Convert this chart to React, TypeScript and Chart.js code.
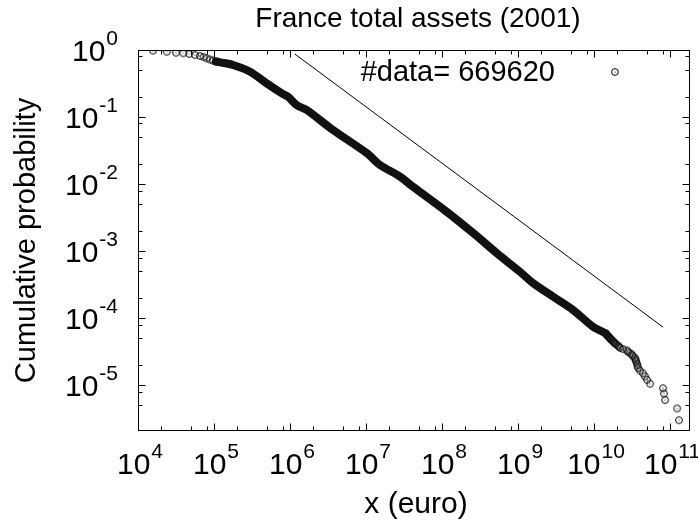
import React, { useEffect, useRef } from 'react';
import { Chart, registerables } from 'chart.js';

Chart.register(...registerables);

const TITLE = 'France total assets (2001)';
const X_TITLE = 'x (euro)';
const Y_TITLE = 'Cumulative probability';
const N_DATA = 669620;
const LEGEND_TEXT = '#data= ' + N_DATA;

const X_MIN = 1e4;
const X_MAX = 1.83e11;
const Y_MIN = 2.06e-6;
const Y_MAX = 1;
const X_MAJOR_EXP = [4, 5, 6, 7, 8, 9, 10, 11];
const Y_MAJOR_EXP = [0, -1, -2, -3, -4, -5];
const MINOR_MULT = [2, 5, 8];

// smallest firms: separate circles (euro, cumulative probability)
const headX = [1.575e4, 2.39e4, 3.16e4, 3.94e4, 4.73e4, 5.62e4, 6.54e4, 7.3e4, 8.02e4, 8.86e4, 9.7e4, 1.06e5];
const headP = [0.98, 0.943, 0.911, 0.893, 0.872, 0.842, 0.814, 0.785, 0.752, 0.721, 0.697, 0.673];

// dense body of the distribution (overlapping circles)
const bandX = [1.06e5, 1.2e5, 1.78e5, 2.98e5, 4.93e5, 8.1e5, 9.4e5, 1.22e6, 1.66e6, 3.68e6, 1.02e7, 1.53e7, 2.8e7, 4.15e7, 1.15e8, 2.56e8, 5.25e8, 1.06e9, 1.57e9, 2.9e9, 5.3e9, 9.7e9, 1.4e10];
const bandP = [0.673, 0.655, 0.597, 0.474, 0.318, 0.22, 0.201, 0.151, 0.127, 0.064, 0.029, 0.0192, 0.0129, 0.0091, 0.00386, 0.00186, 9.3e-4, 4.9e-4, 3.33e-4, 2.08e-4, 1.32e-4, 7.4e-5, 5.97e-5];

// largest firms: rank k (P = k / N) and assets
const tailRank = [2, 3, 4, 5, 6, 7, 8, 9, 10, 11, 12, 13, 14, 15, 16, 17, 18, 19, 20, 21, 22, 23, 24, 25, 26, 27, 28, 29, 30, 31, 32, 33, 34, 35, 36, 37, 38, 39, 40];
const tailX = [1.31e11, 1.24e11, 8.6e10, 8.34e10, 8.09e10, 5.46e10, 4.98e10, 4.69e10, 4.41e10, 4.03e10, 3.79e10, 3.73e10, 3.68e10, 3.57e10, 3.52e10, 3.46e10, 3.26e10, 3.16e10, 2.98e10, 2.8e10, 2.72e10, 2.41e10, 2.2e10, 2.13e10, 2.07e10, 1.95e10, 1.89e10, 1.83e10, 1.78e10, 1.73e10, 1.67e10, 1.63e10, 1.6e10, 1.57e10, 1.53e10, 1.48e10, 1.46e10, 1.44e10, 1.4e10];

// reference power-law line
const fitX = [1.16e6, 8.1e10];
const fitP = [0.87, 7.3e-5];

const FONT = '"Liberation Sans", Arial, Helvetica, sans-serif';

function makeCircle(): HTMLCanvasElement {
  const c = document.createElement('canvas');
  c.width = 10;
  c.height = 10;
  const g = c.getContext('2d')!;
  g.strokeStyle = '#000';
  g.lineWidth = 1;
  g.beginPath();
  g.arc(5, 5, 3.4, 0, Math.PI * 2);
  g.stroke();
  g.fillStyle = '#000';
  g.beginPath();
  g.arc(5, 5, 0.6, 0, Math.PI * 2);
  g.fill();
  return c;
}

function drawPow(ctx: CanvasRenderingContext2D, exp: number, x: number, y: number, align: 'center' | 'right') {
  const base = '10';
  const sup = String(exp);
  ctx.font = `30px ${FONT}`;
  const wb = ctx.measureText(base).width;
  ctx.font = `21px ${FONT}`;
  const ws = ctx.measureText(sup).width;
  const total = wb + ws + 1;
  const left = align === 'center' ? x - total / 2 : x - total;
  ctx.textAlign = 'left';
  ctx.textBaseline = 'middle';
  ctx.font = `30px ${FONT}`;
  ctx.fillText(base, left, y);
  ctx.font = `21px ${FONT}`;
  ctx.fillText(sup, left + wb + 1, y - 14);
}

const framePlugin = {
  id: 'framePlugin',
  afterDraw(chart: any) {
    const ctx: CanvasRenderingContext2D = chart.ctx;
    const { left, right, top, bottom } = chart.chartArea;
    const xs = chart.scales.x;
    const ys = chart.scales.y;
    ctx.save();
    ctx.strokeStyle = '#000';
    ctx.fillStyle = '#000';
    ctx.lineWidth = 1;
    const L = Math.round(left) + 0.5, R = Math.round(right) - 0.5, T = Math.round(top) + 0.5, B = Math.round(bottom) - 0.5;
    ctx.strokeRect(L, T, R - L, B - T);
    const MAJ = 7, MIN = 4;
    ctx.beginPath();
    for (let e = 3; e <= 12; e++) {
      for (const m of [1, ...MINOR_MULT]) {
        const v = m * Math.pow(10, e);
        if (v < X_MIN * 0.999 || v > X_MAX) continue;
        const px = Math.round(xs.getPixelForValue(v)) + 0.5;
        const len = m === 1 ? MAJ : MIN;
        ctx.moveTo(px, B); ctx.lineTo(px, B - len);
        ctx.moveTo(px, T); ctx.lineTo(px, T + len);
      }
    }
    for (let e = -7; e <= 1; e++) {
      for (const m of [1, ...MINOR_MULT]) {
        const v = m * Math.pow(10, e);
        if (v < Y_MIN || v > Y_MAX * 1.001) continue;
        const py = Math.round(ys.getPixelForValue(v)) + 0.5;
        const len = m === 1 ? MAJ : MIN;
        ctx.moveTo(L, py); ctx.lineTo(L + len, py);
        ctx.moveTo(R, py); ctx.lineTo(R - len, py);
      }
    }
    ctx.stroke();

    for (const e of X_MAJOR_EXP) {
      const px = xs.getPixelForValue(Math.pow(10, e));
      drawPow(ctx, e, px + 2, bottom + 35, 'center');
    }
    for (const e of Y_MAJOR_EXP) {
      const py = ys.getPixelForValue(Math.pow(10, e));
      drawPow(ctx, e, left - 20, py + 3, 'right');
    }

    const cx = (left + right) / 2;
    const cy = (top + bottom) / 2;
    ctx.textAlign = 'center';
    ctx.textBaseline = 'middle';
    ctx.font = `28px ${FONT}`;
    ctx.fillText(TITLE, cx + 4, 19);
    ctx.font = `30px ${FONT}`;
    ctx.fillText(X_TITLE, cx + 2, 505);
    ctx.save();
    ctx.translate(27, cy);
    ctx.rotate(-Math.PI / 2);
    ctx.font = `29px ${FONT}`;
    ctx.fillText(Y_TITLE, 0, 0);
    ctx.restore();

    ctx.textAlign = 'right';
    ctx.font = `29px ${FONT}`;
    ctx.fillText(LEGEND_TEXT, 555, 73);
    ctx.beginPath();
    ctx.arc(615, 72, 3.4, 0, Math.PI * 2);
    ctx.stroke();
    ctx.beginPath();
    ctx.arc(615, 72, 0.6, 0, Math.PI * 2);
    ctx.fill();
    ctx.restore();
  },
};

export default function App() {
  const ref = useRef<HTMLCanvasElement>(null);
  useEffect(() => {
    const circle = makeCircle();
    const head = headX.map((x, i) => ({ x, y: headP[i] }));
    const band = bandX.map((x, i) => ({ x, y: bandP[i] }));
    const tail = tailX.map((x, i) => ({ x, y: tailRank[i] / N_DATA }));
    const fit = fitX.map((x, i) => ({ x, y: fitP[i] }));
    const chart = new Chart(ref.current!, {
      type: 'scatter',
      data: {
        datasets: [
          { data: fit, showLine: true, borderColor: '#000', borderWidth: 1, pointRadius: 0 },
          { data: band, showLine: true, borderColor: '#111', borderWidth: 8, borderCapStyle: 'round', borderJoinStyle: 'round', pointRadius: 0, tension: 0.3 } as any,
          { data: head, pointStyle: circle as any, pointRadius: 4 },
          { data: tail, pointStyle: circle as any, pointRadius: 4 },
        ],
      },
      options: {
        animation: false,
        responsive: false,
        devicePixelRatio: 1,
        layout: { padding: { top: 50, right: 8, left: 0, bottom: 0 } },
        plugins: { legend: { display: false }, tooltip: { enabled: false }, title: { display: false } },
        scales: {
          x: {
            type: 'logarithmic', min: X_MIN, max: X_MAX,
            ticks: { display: false }, grid: { display: false }, border: { display: false },
            afterFit: (s: any) => { s.height = 96; },
          },
          y: {
            type: 'logarithmic', min: Y_MIN, max: Y_MAX,
            ticks: { display: false }, grid: { display: false }, border: { display: false },
            afterFit: (s: any) => { s.width = 138; },
          },
        },
      },
      plugins: [framePlugin],
    });
    return () => chart.destroy();
  }, []);
  return (
    <div style={{ position: 'fixed', left: 0, top: 0, width: 698, height: 527, background: '#fff' }}>
      <canvas ref={ref} width={698} height={527} />
    </div>
  );
}
